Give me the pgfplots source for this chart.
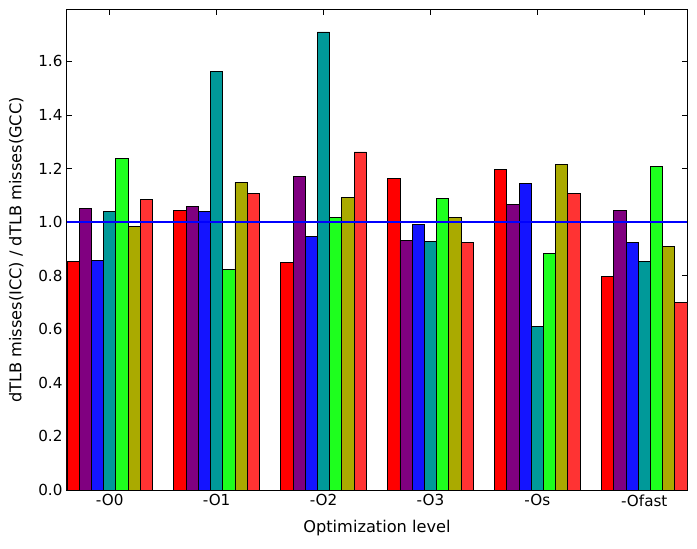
\documentclass[border=0pt]{standalone}
\usepackage{pgfplots}
\pgfplotsset{compat=1.18}
\usepackage{pgfplotstable}
\usetikzlibrary{calc}
\usepackage{fontspec}
\setmainfont{DejaVu Sans}
\definecolor{c1}{RGB}{255,0,0}
\definecolor{c2}{RGB}{128,0,128}
\definecolor{c3}{RGB}{20,20,255}
\definecolor{c4}{RGB}{0,153,153}
\definecolor{c5}{RGB}{30,255,30}
\definecolor{c6}{RGB}{170,170,0}
\definecolor{c7}{RGB}{255,51,51}
\pgfplotstableread{
g  a     b     c     d     e     f     h
0  0.854 1.052 0.857 1.041 1.238 0.984 1.086
1  1.045 1.058 1.041 1.561 0.824 1.148 1.108
2  0.850 1.172 0.948 1.710 1.017 1.093 1.262
3  1.163 0.933 0.991 0.929 1.088 1.019 0.925
4  1.198 1.067 1.146 0.610 0.883 1.217 1.108
5  0.798 1.045 0.925 0.853 1.209 0.909 0.701
}\data
\begin{document}
\begin{tikzpicture}[x=1pt,y=1pt]
\begin{axis}[name=ax,
  at={(0,0)}, anchor=south west,
  scale only axis, width=620pt, height=480pt,
  xmin=0, xmax=5.8, ymin=0, ymax=1.792,
  xtick={0.4,1.4,2.4,3.4,4.4,5.4},
  xticklabels={-O0,-O1,-O2,-O3,-Os,-Ofast},
  ytick={0,0.2,0.4,0.6,0.8,1.0,1.2,1.4,1.6},
  yticklabel style={xshift=-1pt, /pgf/number format/.cd,fixed,fixed zerofill,precision=1},
  /pgf/number format/assume math mode=true,
  tick align=inside, tick pos=both,
  major tick length=5pt,
  tick style={black, line width=0.6pt},
  axis line style={black, line width=1pt},
  xlabel={Optimization level},
  ylabel={dTLB misses(ICC) / dTLB misses(GCC)},
  xticklabel style={yshift=-1pt},
  xlabel style={yshift=-7pt},
  ylabel style={yshift=8pt},
  ticklabel style={font=\fontsize{15.2}{18}\selectfont},
  label style={font=\fontsize{16.2}{19}\selectfont},
  every axis plot/.append style={ybar, bar width=0.11429, bar shift=0pt, draw=black, line width=0.8pt},
]
\addplot[fill=c1] table[x expr=\thisrow{g}+0.05714, y=a] {\data};
\addplot[fill=c2] table[x expr=\thisrow{g}+0.17143, y=b] {\data};
\addplot[fill=c3] table[x expr=\thisrow{g}+0.28571, y=c] {\data};
\addplot[fill=c4] table[x expr=\thisrow{g}+0.40000, y=d] {\data};
\addplot[fill=c5] table[x expr=\thisrow{g}+0.51429, y=e] {\data};
\addplot[fill=c6] table[x expr=\thisrow{g}+0.62857, y=f] {\data};
\addplot[fill=c7] table[x expr=\thisrow{g}+0.74286, y=h] {\data};
\addplot[sharp plot, draw=blue, line width=1.4pt] coordinates {(0,1) (5.8,1)};
\end{axis}
\path[use as bounding box] ($(ax.south west)+(-67pt,-58pt)$) rectangle ($(ax.north east)+(10pt,10pt)$);
\end{tikzpicture}
\end{document}
